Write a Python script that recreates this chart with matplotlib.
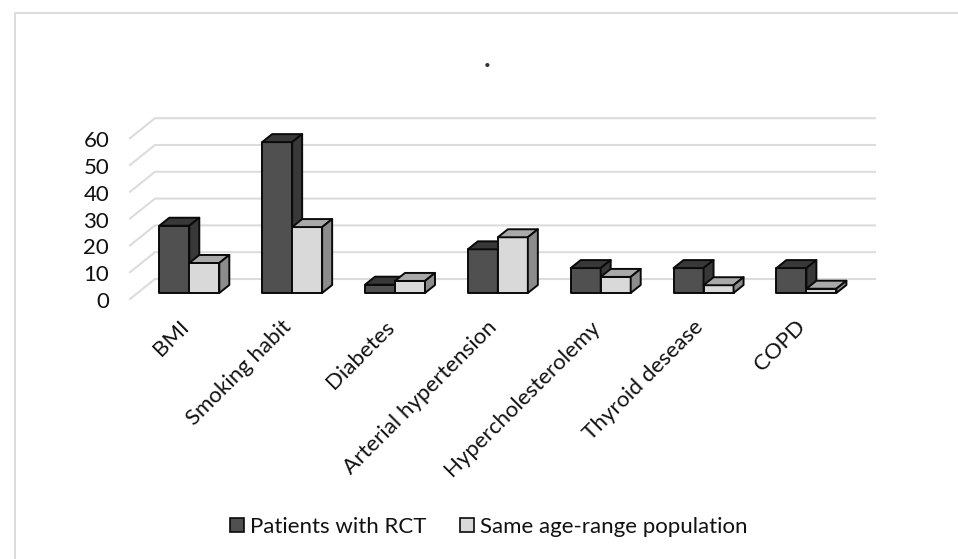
import matplotlib
matplotlib.use("Agg")
import matplotlib.pyplot as plt
from matplotlib.patches import Polygon, Patch
from matplotlib.lines import Line2D
from matplotlib.transforms import ScaledTranslation

categories = ["BMI", "Smoking habit", "Diabetes", "Arterial hypertension",
              "Hypercholesterolemy", "Thyroid desease", "COPD"]
patients = [25.1, 56.3, 3.1, 16.3, 9.3, 9.3, 9.3]
population = [11.2, 24.6, 4.5, 20.8, 6.0, 2.9, 1.6]
yticks = [0, 10, 20, 30, 40, 50, 60]
series_names = ["Patients with RCT", "Same age-range population"]

W, H = 958, 559
plt.rcParams["font.family"] = ["Lato", "DejaVu Sans"]
fig = plt.figure(figsize=(W / 100, H / 100), dpi=100, facecolor="white")

# frame: top and left edges only
fig.add_artist(Line2D([14.5 / W, 14.5 / W, 1], [0, 1 - 13 / H, 1 - 13 / H],
                      transform=fig.transFigure, color="#dcdcdc", linewidth=1.4))

# plot area (pixels)
L, R, B, T = 130, 875, 293, 118
ax = fig.add_axes([L / W, 1 - B / H, (R - L) / W, (B - T) / H])
PX_PER_CAT = 102.85
PX_PER_UNIT = 2.68
X0 = 189.3
ax.set_xlim((L - X0) / PX_PER_CAT, (R - X0) / PX_PER_CAT)
ax.set_ylim(0, (B - T) / PX_PER_UNIT)
ax.patch.set_alpha(0)
for s in ax.spines.values():
    s.set_visible(False)


def dxp(px):
    return px / PX_PER_CAT


def dyp(px):
    return px / PX_PER_UNIT


# 3-D style gridlines: slanted on the side wall, flat on the back wall
grid_front_dy = dyp(-6)
grid_back_dy = dyp(14)
x_left, x_right = ax.get_xlim()
for v in yticks:
    ax.plot([x_left, x_left + dxp(25), x_right],
            [v + grid_front_dy, v + grid_back_dy, v + grid_back_dy],
            color="#dcdcdc", lw=1.5, clip_on=False, zorder=1,
            solid_joinstyle="round")

bw = 30 / PX_PER_CAT
ddx, ddy = dxp(10), dyp(8)
EDGE = dict(edgecolor="#0a0a0a", linewidth=1.4, joinstyle="round", clip_on=False)


def bar3d(x, h, front, top, side, z):
    ax.bar(x, h, width=bw, align="edge", facecolor=front, zorder=z, **EDGE)
    ax.add_patch(Polygon([(x, h), (x + ddx, h + ddy), (x + bw + ddx, h + ddy), (x + bw, h)],
                         closed=True, facecolor=top, zorder=z, **EDGE))
    ax.add_patch(Polygon([(x + bw, 0), (x + bw + ddx, ddy), (x + bw + ddx, h + ddy), (x + bw, h)],
                         closed=True, facecolor=side, zorder=z, **EDGE))


for i, (a, b) in enumerate(zip(patients, population)):
    bar3d(i - bw, a, "#505050", "#383838", "#383838", 3 + 2 * i)
    bar3d(i, b, "#d9d9d9", "#a9a9a9", "#8c8c8c", 4 + 2 * i)

FS = 16
TXT = "#111111"
# ticks
ax.set_yticks(yticks)
ax.set_yticklabels([str(v) for v in yticks], fontsize=FS, color=TXT)
ax.tick_params(axis="both", length=0)
ax.tick_params(axis="y", pad=15)
off_y = ScaledTranslation(0, -7 / 100, fig.dpi_scale_trans)
for lab in ax.get_yticklabels():
    lab.set_transform(lab.get_transform() + off_y)

ax.set_xticks(range(len(categories)))
ax.set_xticklabels(categories, rotation=45, ha="right", rotation_mode="anchor",
                   fontsize=FS, color=TXT)
ax.tick_params(axis="x", pad=17)
off_x = ScaledTranslation(-11 / 100, 0, fig.dpi_scale_trans)
for lab in ax.get_xticklabels():
    lab.set_transform(lab.get_transform() + off_x)

# title dot
fig.text(487 / W, 1 - 67 / H, ".", ha="center", va="baseline", fontsize=20, color="#333333",
         fontweight="bold")

handles = [Patch(facecolor="#505050", edgecolor="#0a0a0a", linewidth=1.2),
           Patch(facecolor="#d9d9d9", edgecolor="#0a0a0a", linewidth=1.2)]
fig.legend(handles, series_names, loc="center", bbox_to_anchor=(488.5 / W, 1 - 527 / H),
           ncol=2, frameon=False, fontsize=FS, handlelength=0.63, handleheight=0.63,
           handletextpad=0.27, columnspacing=1.53, labelcolor=TXT)

fig.savefig("out.png", dpi=100, facecolor="white")
